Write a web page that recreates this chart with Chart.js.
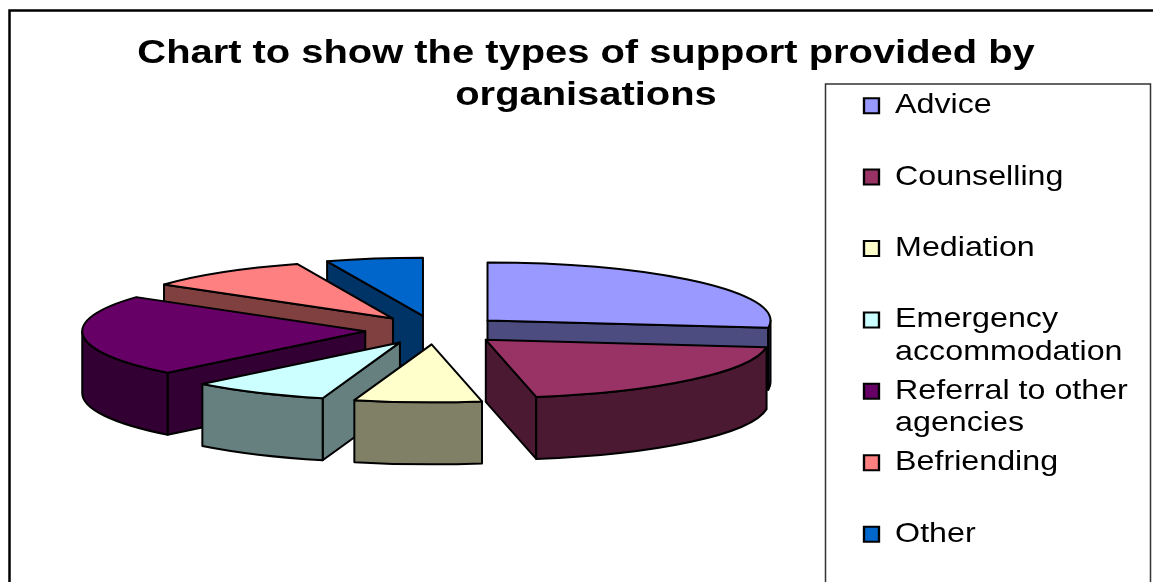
<!DOCTYPE html>
<html>
<head>
<meta charset="utf-8">
<title>Types of support</title>
<script src="https://cdn.jsdelivr.net/npm/chart.js@4"></script>
<style>
  html, body { margin: 0; padding: 0; background: #fff; }
  canvas { display: block; }
</style>
</head>
<body>
<canvas id="myChart" width="1153" height="582"></canvas>
<script>
  // the blank second line keeps every legend row the same height
  const categories = [
    ['Advice', ''],
    ['Counselling', ''],
    ['Mediation', ''],
    ['Emergency', 'accommodation'],
    ['Referral to other', 'agencies'],
    ['Befriending', ''],
    ['Other', '']
  ];
  const values = [27, 20.15, 7.25, 7.9, 22.7, 9.5, 5.5];
  const colors = ['#9999FF', '#993366', '#FFFFCC', '#CCFFFF', '#660066', '#FF8080', '#0066CC'];
  const wallColors = ['#4C4C80', '#4C1933', '#808066', '#668080', '#330033', '#804040', '#003366'];
  const titleLines = ['Chart to show the types of support provided by', 'organisations'];

  const STRETCH = 1.18;      // text and legend are drawn wide
  const TILT = 0.205;        // squash of the pie's plane
  const DEPTH = 62;          // height of the slices on screen
  const PIE_X = 435;
  const PIE_Y = 330;

  function sliceGeometry(arc) {
    const mid = (arc.startAngle + arc.endAngle) / 2;
    const ox = PIE_X + Math.cos(mid) * arc.options.offset;
    const oy = PIE_Y + Math.sin(mid) * arc.options.offset * TILT;
    return {ox, oy, r: arc.outerRadius, start: arc.startAngle, end: arc.endAngle};
  }

  function rimX(g, a) { return g.ox + Math.cos(a) * g.r; }
  function rimY(g, a) { return g.oy + Math.sin(a) * g.r * TILT; }

  function paint(ctx, fill) {
    ctx.fillStyle = fill;
    ctx.fill();
    ctx.stroke();
  }

  function drawCutFace(ctx, g, a, fill) {
    ctx.beginPath();
    ctx.moveTo(g.ox, g.oy);
    ctx.lineTo(rimX(g, a), rimY(g, a));
    ctx.lineTo(rimX(g, a), rimY(g, a) + DEPTH);
    ctx.lineTo(g.ox, g.oy + DEPTH);
    ctx.closePath();
    paint(ctx, fill);
  }

  function drawSlice(ctx, arc, wall) {
    const g = sliceGeometry(arc);
    ctx.strokeStyle = arc.options.borderColor;
    ctx.lineWidth = arc.options.borderWidth;
    ctx.lineJoin = 'round';

    // only the faces turned to the viewer
    if (Math.cos(g.start) < -1e-6) drawCutFace(ctx, g, g.start, wall);
    if (Math.cos(g.end) > 1e-6) drawCutFace(ctx, g, g.end, wall);

    const from = Math.max(g.start, 0);
    const to = Math.min(g.end, Math.PI);
    if (to > from) {
      ctx.beginPath();
      ctx.ellipse(g.ox, g.oy, g.r, g.r * TILT, 0, from, to);
      ctx.ellipse(g.ox, g.oy + DEPTH, g.r, g.r * TILT, 0, to, from, true);
      ctx.closePath();
      paint(ctx, wall);
    }

    ctx.beginPath();
    ctx.moveTo(g.ox, g.oy);
    ctx.ellipse(g.ox, g.oy, g.r, g.r * TILT, 0, g.start, g.end);
    ctx.closePath();
    paint(ctx, arc.options.backgroundColor);
  }

  const pie3d = {
    id: 'pie3d',
    beforeDraw(chart) {
      const ctx = chart.ctx;
      ctx.save();
      ctx.fillStyle = '#fff';
      ctx.fillRect(0, 0, chart.width, chart.height);
      ctx.strokeStyle = '#000';
      ctx.lineWidth = 2.5;
      ctx.beginPath();
      ctx.moveTo(9.5, chart.height + 5);
      ctx.lineTo(9.5, 10.5);
      ctx.lineTo(chart.width + 5, 10.5);
      ctx.stroke();
      ctx.strokeStyle = '#333';
      ctx.lineWidth = 1.5;
      ctx.strokeRect(825.5, 84, 325, chart.height);
      ctx.restore();

      const title = chart.titleBlock;
      title.left = 0;
      title.right = 586 * 2 / STRETCH;
      title.top = 0;

      const legend = chart.legend;
      legend.update(400, chart.height, {top: 0, left: 0, right: 0, bottom: 0});
      legend.left = 864 / STRETCH - legend.options.labels.padding;
      legend.right = chart.width / STRETCH;
      legend.top = 85;
      legend.bottom = chart.height;

      ctx.save();
      ctx.scale(STRETCH, 1);
    },
    beforeDatasetsDraw(chart) {
      const ctx = chart.ctx;
      const meta = chart.getDatasetMeta(0);
      const dpr = chart.currentDevicePixelRatio;
      const order = meta.data.map((arc, i) => i)
        .sort((a, b) => sliceGeometry(meta.data[a]).oy - sliceGeometry(meta.data[b]).oy);
      ctx.save();
      ctx.setTransform(dpr, 0, 0, dpr, 0, 0);
      order.forEach(i => drawSlice(ctx, meta.data[i], wallColors[i]));
      ctx.restore();
      return false;
    },
    afterDraw(chart) {
      chart.ctx.restore();
    }
  };

  const ctx = document.getElementById('myChart').getContext('2d');

  new Chart(ctx, {
    type: 'pie',
    plugins: [pie3d],
    data: {
      labels: categories,
      datasets: [{
        data: values,
        backgroundColor: colors,
        borderColor: '#000',
        borderWidth: 2,
        offset: 70,
        clip: false
      }]
    },
    options: {
      responsive: false,
      animation: false,
      events: [],
      radius: 283,
      plugins: {
        tooltip: { enabled: false },
        title: {
          display: true,
          text: titleLines,
          color: '#000',
          padding: { top: 33, bottom: 0 },
          font: { family: '"Liberation Sans", Arial, sans-serif', size: 33.8, weight: 'bold', lineHeight: 1.24 }
        },
        legend: {
          position: 'right',
          align: 'start',
          labels: {
            color: '#000',
            boxWidth: 12.7,
            boxHeight: 15,
            padding: 7,
            font: { family: '"Liberation Sans", Arial, sans-serif', size: 27.3, lineHeight: 1.18 }
          }
        }
      }
    }
  });
</script>
</body>
</html>
